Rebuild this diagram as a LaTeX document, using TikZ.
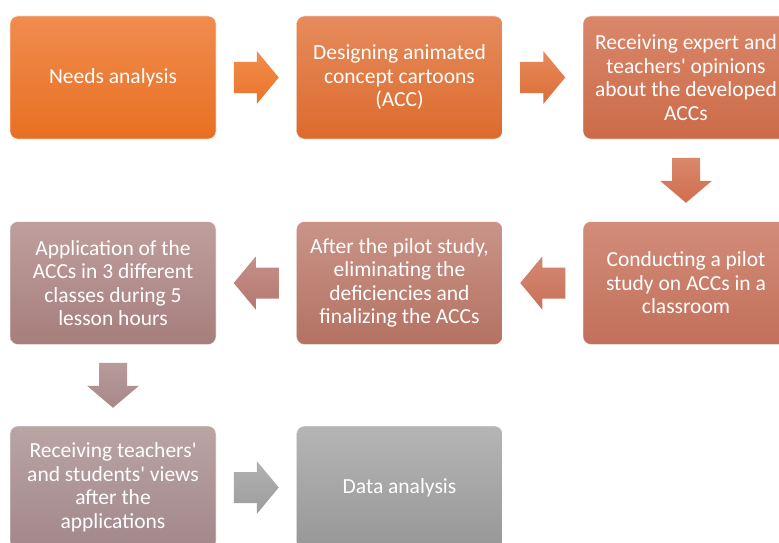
\documentclass[tikz,border=0pt]{standalone}
\usepackage{fontspec}
\setmainfont{Carlito}
\usetikzlibrary{calc}

% stage fills (top / bottom of the vertical gradient)
\definecolor{aT}{HTML}{F08C4E}\definecolor{aB}{HTML}{E86F22}
\definecolor{bT}{HTML}{E68B5D}\definecolor{bB}{HTML}{DC6B2D}
\definecolor{cT}{HTML}{DA876A}\definecolor{cB}{HTML}{CB6B48}
\definecolor{dT}{HTML}{D28C79}\definecolor{dB}{HTML}{C27059}
\definecolor{eT}{HTML}{C99488}\definecolor{eB}{HTML}{B47262}
\definecolor{fT}{HTML}{BF9F9D}\definecolor{fB}{HTML}{A67E7C}
\definecolor{gT}{HTML}{BAA4A4}\definecolor{gB}{HTML}{A2878B}
\definecolor{hT}{HTML}{B5B5B5}\definecolor{hB}{HTML}{979797}
% arrow fills
\definecolor{arT}{HTML}{F18E4C}\definecolor{arB}{HTML}{EA7329}
\definecolor{brT}{HTML}{E78A5C}\definecolor{brB}{HTML}{DC6E36}
\definecolor{crT}{HTML}{DA886C}\definecolor{crB}{HTML}{CF6E4E}
\definecolor{drT}{HTML}{D38873}\definecolor{drB}{HTML}{C97158}
\definecolor{erT}{HTML}{C49088}\definecolor{erB}{HTML}{B57870}
\definecolor{frT}{HTML}{B89B9B}\definecolor{frB}{HTML}{A88788}
\definecolor{grT}{HTML}{B2B2B2}\definecolor{grB}{HTML}{9C9C9C}

\tikzset{
  stage/.style 2 args={rectangle, rounded corners=8pt,
    minimum width=206pt, minimum height=123pt, inner sep=3pt,
    align=center, text=white, font=\fontsize{21.5}{23.5}\selectfont,
    top color=#1, bottom color=#2, draw=white, draw opacity=0.6, line width=0.6pt},
  % block arrows, 45pt long, centred on the pic's position
  pics/arrowR/.style 2 args={code={
    \path[top color=#1, bottom color=#2]
      (-22.5,-15.5) -- (0.5,-15.5) -- (0.5,-26.5) -- (22.5,0)
      -- (0.5,26.5) -- (0.5,15.5) -- (-22.5,15.5) -- cycle;}},
  pics/arrowL/.style 2 args={code={
    \path[top color=#1, bottom color=#2]
      (22.5,-15.5) -- (-0.5,-15.5) -- (-0.5,-26.5) -- (-22.5,0)
      -- (-0.5,26.5) -- (-0.5,15.5) -- (22.5,15.5) -- cycle;}},
  pics/arrowD/.style 2 args={code={
    \path[top color=#1, bottom color=#2]
      (-14,-22.5) -- (14,-22.5) -- (14,0.5) -- (26,0.5) -- (0,22.5)
      -- (-26,0.5) -- (-14,0.5) -- cycle;}},
}

\begin{document}
\begin{tikzpicture}[x=1pt, y=-1pt]
  \clip (0,0) rectangle (779,543);
  \fill[white] (0,0) rectangle (779,543);

  % stages
  \node[stage={aT}{aB}] (n1) at (113,77.5) {Needs analysis};
  \node[stage={bT}{bB}] (n2) at (399.5,77.5) {Designing animated\\concept cartoons\\(ACC)};
  \node[stage={cT}{cB}] (n3) at (686,77.5) {Receiving expert and\\teachers\textquotesingle{} opinions\\about the developed\\ACCs};
  \node[stage={dT}{dB}] (n4) at (686,283) {Conducting a pilot\\study on ACCs in a\\classroom};
  \node[stage={eT}{eB}] (n5) at (399.5,283) {After the pilot study,\\eliminating the\\deficiencies and\\finalizing the ACCs};
  \node[stage={fT}{fB}] (n6) at (113,283) {Application of the\\ACCs in 3 different\\classes during 5\\lesson hours};
  \node[stage={gT}{gB}] (n7) at (113,487.5) {Receiving teachers\textquotesingle\\and students\textquotesingle{} views\\after the\\applications};
  \node[stage={hT}{hB}] (n8) at (399.5,487.5) {Data analysis};

  % flow arrows between stages
  \pic at ($(n1.east)!0.5!(n2.west)$) {arrowR={arT}{arB}};
  \pic at ($(n2.east)!0.5!(n3.west)$) {arrowR={brT}{brB}};
  \pic at ($(n3.south)!0.5!(n4.north)$) {arrowD={crT}{crB}};
  \pic at ($(n4.west)!0.5!(n5.east)$) {arrowL={drT}{drB}};
  \pic at ($(n5.west)!0.5!(n6.east)$) {arrowL={erT}{erB}};
  \pic at ($(n6.south)!0.5!(n7.north)$) {arrowD={frT}{frB}};
  \pic at ($(n7.east)!0.5!(n8.west)$) {arrowR={grT}{grB}};
\end{tikzpicture}
\end{document}
